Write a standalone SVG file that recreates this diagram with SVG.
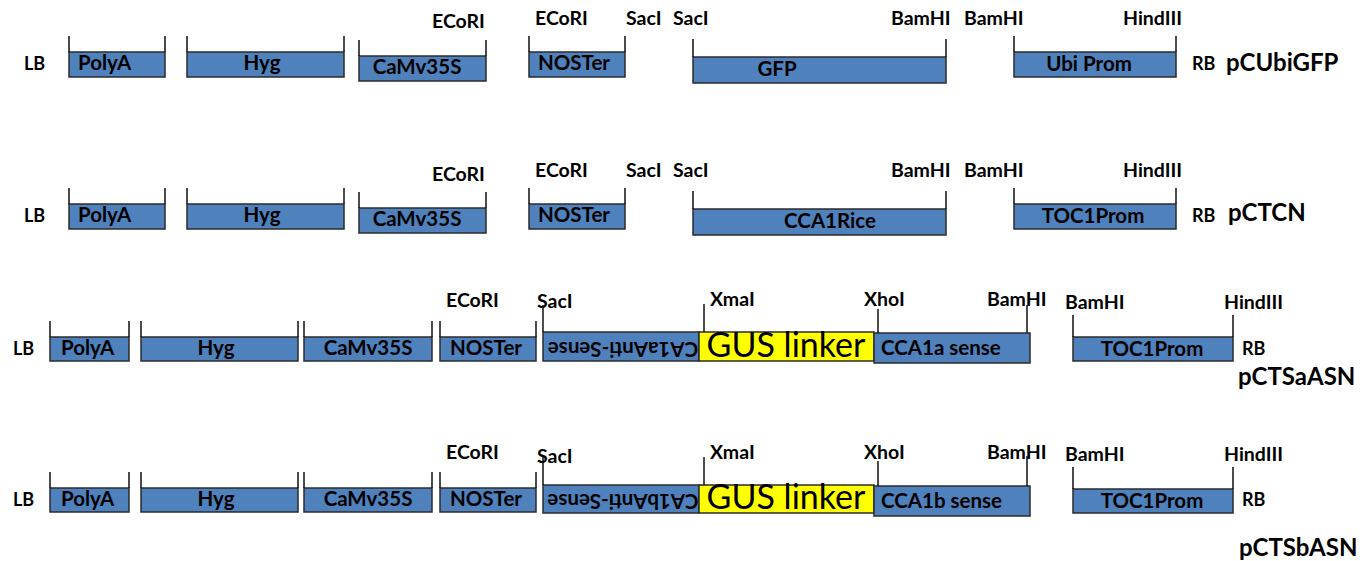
<svg xmlns="http://www.w3.org/2000/svg" width="1369" height="561" viewBox="0 0 1369 561">
<style>
text{font-family:Lato,"Open Sans","Liberation Sans",sans-serif;font-weight:bold;fill:#000}
.box{fill:#4F81BD;stroke:#2b2b2b;stroke-width:1.5}
.gus{fill:#FFFF00;stroke:#2b2b2b;stroke-width:1.5}
.tk{stroke:#111;stroke-width:1.5;fill:none}
.lb{font-size:18px}
.nm{font-size:20.5px}
.site{font-size:19.5px}
.pl{font-size:24px}
.gt{font-size:34px;font-weight:normal}
.c{text-anchor:middle}
</style>
<rect width="1369" height="561" fill="#fff"/>

<!-- Row 1 pCUbiGFP -->
<g id="row1">
<text class="lb" x="24" y="70">LB</text>
<g id="r1-polyA"><rect class="box" x="69" y="52" width="96" height="25"/><path class="tk" d="M69 36V52M165 36V52"/><text class="nm" x="78" y="70">PolyA</text></g>
<g id="r1-hyg"><rect class="box" x="187" y="52" width="157" height="25"/><path class="tk" d="M187 36V52M344 36V52"/><text class="nm c" x="262" y="70">Hyg</text></g>
<g id="r1-camv"><rect class="box" x="359" y="56" width="127" height="25"/><path class="tk" d="M359 40V56M486 40V56"/><text class="nm c" x="417" y="74">CaMv35S</text></g>
<g id="r1-noster"><rect class="box" x="529" y="52" width="96" height="25"/><path class="tk" d="M529 36V52M625 36V52"/><text class="nm c" x="574" y="70">NOSTer</text></g>
<g id="r1-gfp"><rect class="box" x="693" y="57" width="253" height="26"/><path class="tk" d="M693 39V57M946 39V57"/><text class="nm c" x="777" y="76">GFP</text></g>
<g id="r1-ubi"><rect class="box" x="1014" y="52" width="162" height="25"/><path class="tk" d="M1014 36V52M1176 36V52"/><text class="nm c" x="1089" y="71">Ubi Prom</text></g>
<text class="site" x="432" y="28">ECoRI</text>
<text class="site" x="535" y="25">ECoRI</text>
<text class="site" x="626" y="25">SacI</text>
<text class="site" x="673" y="25">SacI</text>
<text class="site" x="891" y="25">BamHI</text>
<text class="site" x="964" y="25">BamHI</text>
<text class="site" x="1123" y="25">HindIII</text>
<text class="lb" x="1192" y="70">RB</text>
<text class="pl" x="1226" y="71">pCUbiGFP</text>
</g>

<!-- Row 2 pCTCN -->
<g id="row2">
<text class="lb" x="24" y="222">LB</text>
<g id="r2-polyA"><rect class="box" x="69" y="204" width="96" height="25"/><path class="tk" d="M69 188V204M165 188V204"/><text class="nm" x="78" y="222">PolyA</text></g>
<g id="r2-hyg"><rect class="box" x="187" y="204" width="157" height="25"/><path class="tk" d="M187 188V204M344 188V204"/><text class="nm c" x="262" y="222">Hyg</text></g>
<g id="r2-camv"><rect class="box" x="359" y="208" width="127" height="25"/><path class="tk" d="M359 192V208M486 192V208"/><text class="nm c" x="417" y="226">CaMv35S</text></g>
<g id="r2-noster"><rect class="box" x="529" y="204" width="96" height="25"/><path class="tk" d="M529 188V204M625 188V204"/><text class="nm c" x="574" y="222">NOSTer</text></g>
<g id="r2-cca1rice"><rect class="box" x="693" y="209" width="253" height="26"/><path class="tk" d="M693 191V209M946 191V209"/><text class="nm c" x="830" y="228">CCA1Rice</text></g>
<g id="r2-toc1"><rect class="box" x="1014" y="204" width="162" height="25"/><path class="tk" d="M1014 188V204M1176 188V204"/><text class="nm c" x="1093" y="223">TOC1Prom</text></g>
<text class="site" x="432" y="181">ECoRI</text>
<text class="site" x="535" y="177">ECoRI</text>
<text class="site" x="626" y="177">SacI</text>
<text class="site" x="673" y="177">SacI</text>
<text class="site" x="891" y="177">BamHI</text>
<text class="site" x="964" y="177">BamHI</text>
<text class="site" x="1123" y="177">HindIII</text>
<text class="lb" x="1192" y="222">RB</text>
<text class="pl" x="1228" y="221">pCTCN</text>
</g>

<!-- Row 3 pCTSaASN -->
<g id="row3">
<text class="lb" x="13" y="355">LB</text>
<g id="r3-polyA"><rect class="box" x="50" y="337" width="79" height="24"/><path class="tk" d="M50 321V337M129 321V337"/><text class="nm" x="61" y="355">PolyA</text></g>
<g id="r3-hyg"><rect class="box" x="141" y="337" width="157" height="24"/><path class="tk" d="M141 321V337M298 321V337"/><text class="nm c" x="216" y="355">Hyg</text></g>
<g id="r3-camv"><rect class="box" x="304" y="337" width="128" height="24"/><path class="tk" d="M304 321V337M432 321V337"/><text class="nm c" x="368" y="355">CaMv35S</text></g>
<g id="r3-noster"><rect class="box" x="440" y="337" width="96" height="24"/><path class="tk" d="M440 321V337M536 321V337"/><text class="nm c" x="486" y="355">NOSTer</text></g>
<g id="r3-anti"><rect class="box" x="543" y="332" width="156" height="29"/><path class="tk" d="M543 305V332"/><text class="nm c" x="623" y="342" transform="rotate(180 623 342)">CA1aAnti-Sense</text></g>
<g id="r3-gus"><rect class="gus" x="699" y="332" width="175" height="29"/><path class="tk" d="M704 304V332"/><text class="gt c" x="786" y="357">GUS linker</text></g>
<g id="r3-sense"><rect class="box" x="874" y="333" width="156" height="30"/><path class="tk" d="M878 309V333M1027 305V333"/><text class="nm" x="881" y="355">CCA1a sense</text></g>
<g id="r3-toc1"><rect class="box" x="1073" y="337" width="160" height="24"/><path class="tk" d="M1073 315V337M1233 315V337"/><text class="nm c" x="1152" y="356">TOC1Prom</text></g>
<text class="site" x="446" y="307">ECoRI</text>
<text class="site" x="537" y="308">SacI</text>
<text class="site" x="710" y="306">XmaI</text>
<text class="site" x="864" y="306">XhoI</text>
<text class="site" x="987" y="306">BamHI</text>
<text class="site" x="1065" y="309">BamHI</text>
<text class="site" x="1224" y="309">HindIII</text>
<text class="lb" x="1242" y="355">RB</text>
<text class="pl" x="1238" y="385">pCTSaASN</text>
</g>

<!-- Row 4 pCTSbASN -->
<g id="row4">
<text class="lb" x="13" y="506">LB</text>
<g id="r4-polyA"><rect class="box" x="50" y="488" width="79" height="24"/><path class="tk" d="M50 472V488M129 472V488"/><text class="nm" x="61" y="506">PolyA</text></g>
<g id="r4-hyg"><rect class="box" x="141" y="488" width="157" height="24"/><path class="tk" d="M141 472V488M298 472V488"/><text class="nm c" x="216" y="506">Hyg</text></g>
<g id="r4-camv"><rect class="box" x="304" y="488" width="128" height="24"/><path class="tk" d="M304 472V488M432 472V488"/><text class="nm c" x="368" y="506">CaMv35S</text></g>
<g id="r4-noster"><rect class="box" x="440" y="488" width="96" height="24"/><path class="tk" d="M440 472V488M536 472V488"/><text class="nm c" x="486" y="506">NOSTer</text></g>
<g id="r4-anti"><rect class="box" x="543" y="485" width="156" height="28"/><path class="tk" d="M543 455V485"/><text class="nm c" x="623" y="494" transform="rotate(180 623 494)">CA1bAnti-Sense</text></g>
<g id="r4-gus"><rect class="gus" x="699" y="485" width="175" height="28"/><path class="tk" d="M704 457V485"/><text class="gt c" x="786" y="509">GUS linker</text></g>
<g id="r4-sense"><rect class="box" x="874" y="486" width="156" height="30"/><path class="tk" d="M878 461V486M1027 456V486"/><text class="nm" x="881" y="508">CCA1b sense</text></g>
<g id="r4-toc1"><rect class="box" x="1073" y="489" width="160" height="24"/><path class="tk" d="M1073 467V489M1233 467V489"/><text class="nm c" x="1152" y="508">TOC1Prom</text></g>
<text class="site" x="446" y="459">ECoRI</text>
<text class="site" x="537" y="463">SacI</text>
<text class="site" x="710" y="459">XmaI</text>
<text class="site" x="864" y="459">XhoI</text>
<text class="site" x="987" y="459">BamHI</text>
<text class="site" x="1065" y="461">BamHI</text>
<text class="site" x="1224" y="461">HindIII</text>
<text class="lb" x="1242" y="506">RB</text>
<text class="pl" x="1239" y="556">pCTSbASN</text>
</g>
</svg>
